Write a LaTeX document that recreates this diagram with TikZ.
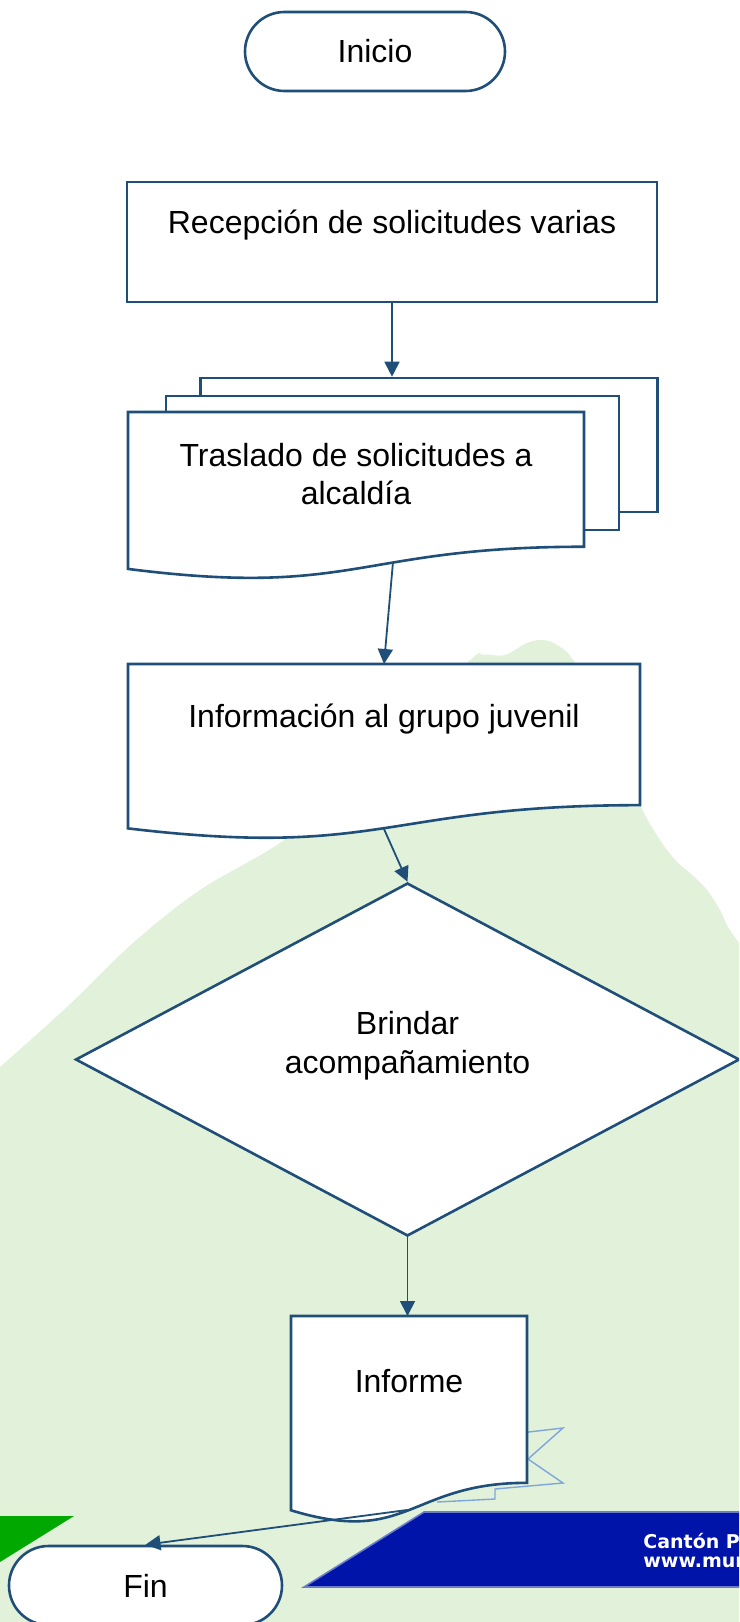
\documentclass[tikz,border=0pt]{standalone}
\usepackage{fontspec}
\setmainfont{Liberation Sans}
\newfontfamily\bandfont{DejaVu Sans}
\usepackage{xcolor}
\usepackage{tikz}
\usetikzlibrary{shapes,arrows.meta}

\definecolor{flowline}{RGB}{31,78,121}
\definecolor{blobgreen}{RGB}{226,241,217}
\definecolor{trigreen}{RGB}{0,168,0}
\definecolor{bandblue}{RGB}{0,20,170}
\definecolor{bandedge}{RGB}{105,125,200}
\definecolor{flagblue}{RGB}{125,166,223}

\begin{document}
\begin{tikzpicture}[
    x=0.5pt, y=-0.5pt,
    font=\fontsize{16pt}{19.2pt}\selectfont,
    shapeline/.style={draw=flowline,line width=1.3pt,fill=white},
    terminal/.style={shapeline,rounded rectangle,minimum height=39.5pt,inner sep=0pt},
    proc/.style={shapeline,rectangle,inner sep=0pt},
    sheet/.style={shapeline,rectangle,inner sep=0pt,minimum height=67pt},
    docbox/.style={rectangle,inner sep=0pt,anchor=north},
    decision/.style={shapeline,diamond,inner sep=0pt,minimum width=332pt,minimum height=176.5pt},
    txt/.style={inner sep=0pt,align=center},
    bandtxt/.style={inner sep=0pt,align=left,text=white,font=\bandfont\bfseries\fontsize{9.5pt}{9.5pt}\selectfont},
    conn/.style={draw=flowline,line width=0.9pt,-{Triangle[length=7.5pt,width=7.5pt]}},
    docpath/.style n args={4}{insert path={(#1,#2) -- (#3,#2) -- (#3,{#2+0.802*#4})
        .. controls ({(#1+#3)/2},{#2+0.802*#4}) and ({(#1+#3)/2},{#2+1.107*#4}) .. (#1,{#2+0.934*#4}) -- cycle}},
]
\useasboundingbox (0,0) rectangle (739,1622);
\clip (0,0) rectangle (739,1622);
\fill[white] (0,0) rectangle (739,1622);

% background
\fill[blobgreen] (0,1622) -- plot[smooth,tension=0.55] coordinates {(0,1067) (67,1007) (133,943) (200,890)
    (287,838) (360,770) (467,663) (483,655) (505,655) (527,643) (543,640) (557,645) (575,663) (610,735)
    (640,805) (660,840) (677,862) (690,873) (707,890) (720,910) (728,927) (739,943)} -- (739,1622) -- cycle;
\fill[trigreen] (0,1516) -- (74,1516) -- (0,1562) -- cycle;
\filldraw[fill=bandblue,draw=bandedge,line width=0.8pt] (424,1512) -- (745,1512) -- (745,1587) -- (304,1587) -- cycle;
\node[bandtxt,anchor=north west] (band) at (643,1533) {Cantón P\\www.mur};

\node[terminal,minimum width=130pt] (inicio) at (375,51.5) {Inicio};
\node[proc,minimum width=265pt,text height=25.5pt,text depth=34.5pt] (recep) at (392,242) {Recepción de solicitudes varias};

\node[sheet,minimum width=228.5pt] (tras3) at (429,445) {};
\node[sheet,minimum width=226.5pt] (tras2) at (392.5,463) {};
\draw[shapeline,docpath={128}{412}{584}{168}];
\node[txt,anchor=north] (tras) at (356,443) {Traslado de solicitudes a\\alcaldía};
\coordinate (tras-out) at (393,562);

\draw[shapeline,docpath={128}{664}{640}{176}];
\node[docbox,minimum width=256pt,text height=31.5pt,text depth=39pt] (info) at (384,664) {Información al grupo juvenil};
\coordinate (info-out) at (384,829);

\node[decision] (brindar) at (407.5,1059.5) {};
\node[txt,anchor=north] (brindar-txt) at (407.5,1011) {Brindar\\acompañamiento};

\draw[flagblue,line width=0.7pt] (520,1433) -- (563,1428) -- (528,1459) -- (563,1483) -- (495,1489) -- (495,1499) -- (437,1502);
\draw[shapeline,docpath={291}{1316}{527}{208}];
\node[docbox,minimum width=118pt,text height=38pt,text depth=45.5pt] (informe) at (409,1316) {Informe};
\coordinate (informe-out) at (407,1510);

\node[terminal,minimum width=136.5pt] (fin) at (145.5,1585.5) {Fin};

\draw[conn] (recep.south) -- (recep.south |- tras3.north);
\draw[conn] (tras-out) -- (info.north);
\draw[conn] (info-out) -- (brindar.north);
\draw[conn] (brindar.south) -- (brindar.south |- informe.north);
\draw[conn] (informe-out) -- (fin.north);
\end{tikzpicture}
\end{document}
